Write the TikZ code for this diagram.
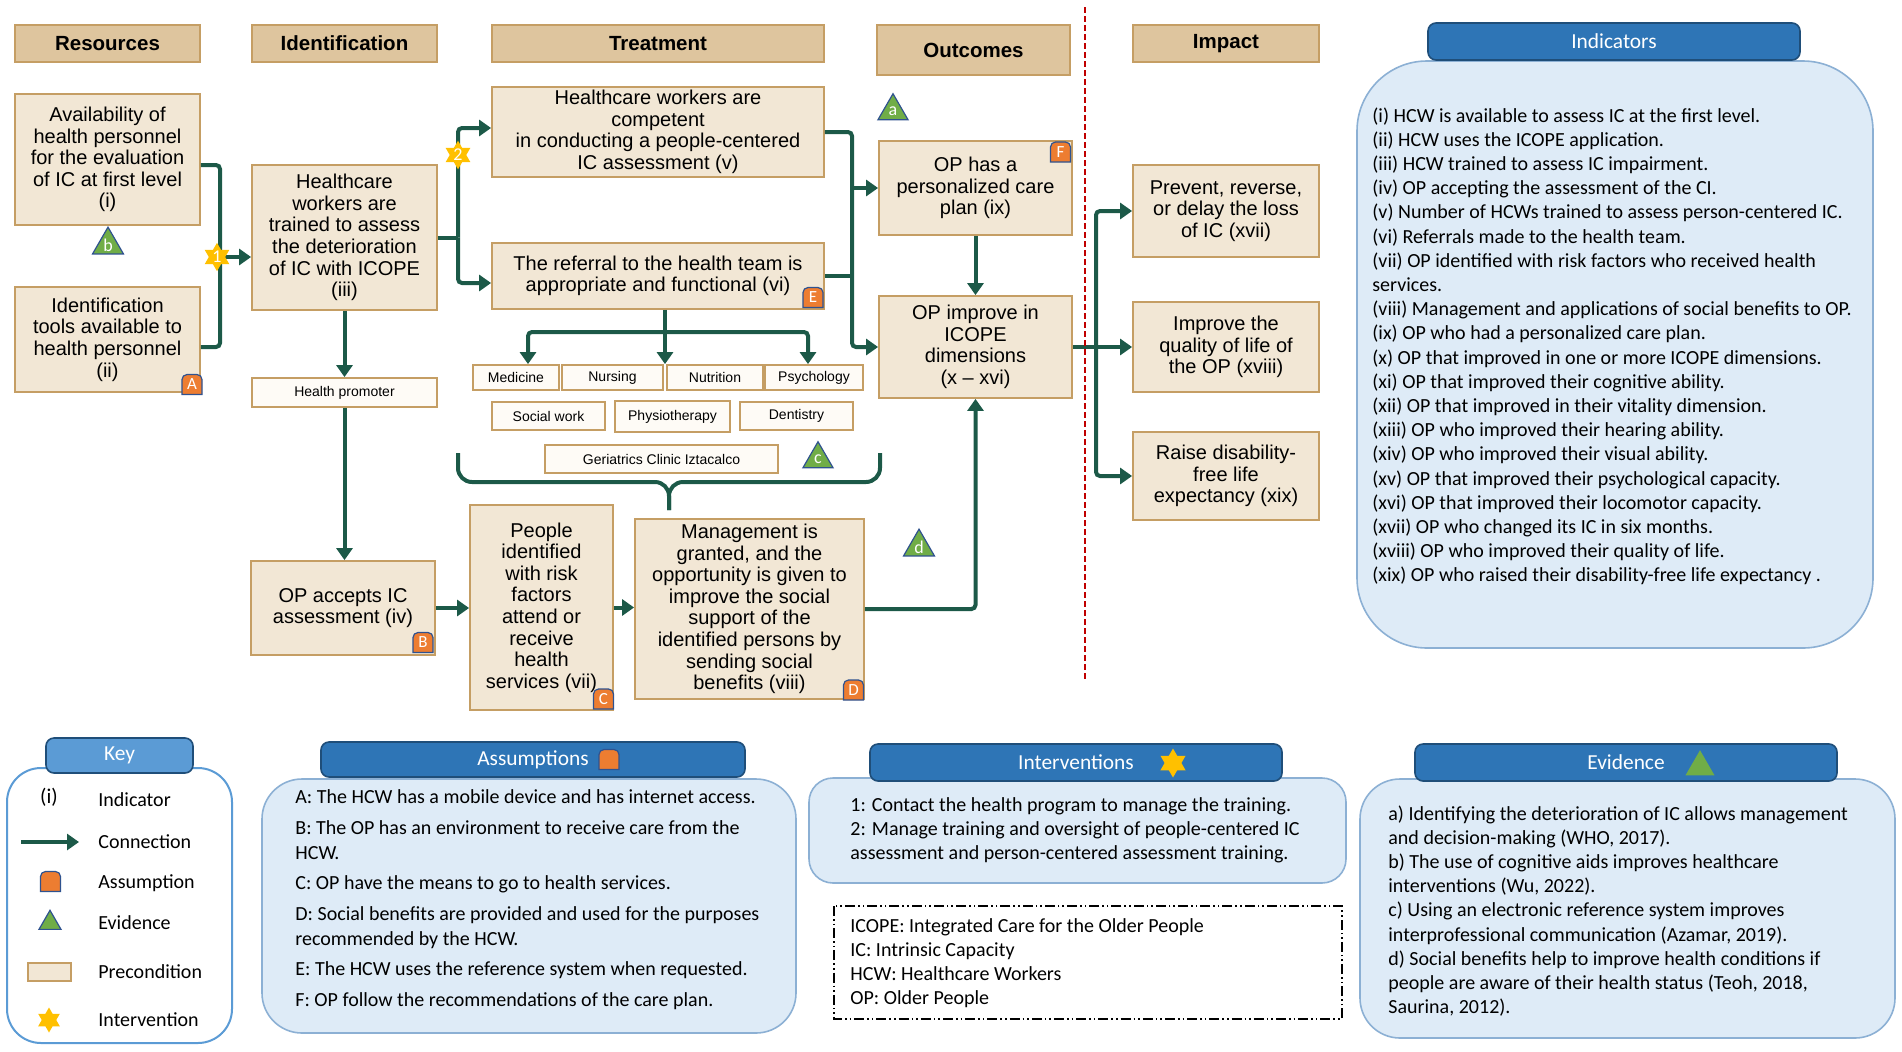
\documentclass[tikz,border=0pt]{standalone}
\usepackage{fontspec}
\setmainfont{Liberation Sans}
\newfontfamily\calibri{Carlito}
\usepackage{tikz}
\usetikzlibrary{positioning,arrows.meta,calc,shapes.geometric}

\definecolor{headfill}{RGB}{222,197,158}
\definecolor{boxfill}{RGB}{242,231,213}
\definecolor{boxline}{RGB}{197,158,100}
\definecolor{teamfill}{RGB}{254,251,246}
\definecolor{linkgreen}{RGB}{28,89,72}
\definecolor{evgreen}{RGB}{112,173,71}
\definecolor{evline}{RGB}{47,82,143}
\definecolor{asorange}{RGB}{237,125,49}
\definecolor{stargold}{RGB}{255,192,0}
\definecolor{panelblue}{RGB}{46,117,182}
\definecolor{panelline}{RGB}{31,78,121}
\definecolor{keyblue}{RGB}{91,155,213}
\definecolor{bodyfill}{RGB}{222,235,247}
\definecolor{bodyline}{RGB}{140,176,212}
\definecolor{cutred}{RGB}{192,0,0}

% assumption badge: name, position, letter
\newcommand{\asmbadge}[3]{%
  \filldraw[asmshape] ($(#2)+(-10,10)$) -- ($(#2)+(10,10)$) [rounded corners=2.5pt] -- ($(#2)+(10,-10)$) -- ($(#2)+(-10,-10)$) [sharp corners] -- cycle;
  \node[asmtext] (#1) at (#2) {#3};}

\begin{document}
\begin{tikzpicture}[x=0.5pt,y=-0.5pt,
  head/.style={draw=boxline, fill=headfill, line width=0.9pt, font=\fontsize{10.25}{12}\selectfont\bfseries, minimum width=92.5pt, minimum height=18.5pt, inner sep=0pt},
  cond/.style={draw=boxline, fill=boxfill, line width=0.9pt, align=center, font=\fontsize{10}{10.8}\selectfont, inner sep=0pt},
  team/.style={draw=boxline, fill=teamfill, line width=0.9pt, font=\fontsize{7}{8}\selectfont, minimum height=12.5pt, inner sep=0pt},
  link/.style={draw=linkgreen, line width=2pt, rounded corners=2pt},
  arr/.style={link, -{Triangle[length=6pt,width=8pt]}},
  evid/.style={regular polygon, regular polygon sides=3, fill=evgreen, draw=evline, line width=0.6pt, inner sep=0pt, text=white, font=\calibri\fontsize{9}{9}\selectfont, minimum size=17.3pt},
  interv/.style={star, star points=6, star point ratio=1.73, fill=stargold, inner sep=0pt, minimum size=14pt, text=white, font=\calibri\fontsize{9}{9}\selectfont},
  asmshape/.style={fill=asorange, draw=evline, line width=0.6pt},
  asmtext/.style={inner sep=0pt, minimum size=10pt, text=white, font=\calibri\fontsize{8.5}{9}\selectfont},
  cut/.style={draw=cutred, line width=1.1pt, dash pattern=on 3pt off 1.5pt},
  body/.style={draw=bodyline, fill=bodyfill, line width=0.8pt},
  panelhead/.style={draw=panelline, fill=panelblue, rounded corners=4pt, line width=0.8pt, text=white, font=\calibri\fontsize{10.7}{12}\selectfont, inner sep=0pt, minimum height=18.5pt},
  paneltext/.style={align=left, inner sep=0pt, font=\calibri\fontsize{10}{12.1}\selectfont},
  keylabel/.style={anchor=west, inner sep=0pt, font=\calibri\fontsize{10}{12}\selectfont},
  gloss/.style={draw=black, line width=0.7pt, dash pattern=on 5pt off 1.5pt on 0.8pt off 1.5pt on 0.8pt off 1.5pt}]
\useasboundingbox (0,0) rectangle (1902,1051);

% Column headers
\node[head] (hres) at (107.5,43.5) {Resources};
\node[head] (hide) at (344.5,43.5) {Identification};
\node[head, minimum width=166pt] (htre) at (658,43.5) {Treatment};
\node[head, minimum width=96.5pt, minimum height=25pt] (hout) at (973.5,50) {Outcomes};
\node[head, minimum width=93pt] (himp) at (1226,43.5) {Impact};

% Preconditions
\node[cond, minimum width=92.5pt, minimum height=65.5pt] (avail) at (107.5,159.5) {Availability of\\health personnel\\for the evaluation\\of IC at first level\\(i)};
\node[cond, minimum width=92.5pt, minimum height=52.5pt] (tools) at (107.5,339.5) {Identification\\tools available to\\health personnel\\(ii)};
\node[cond, minimum width=92.5pt, minimum height=72.5pt] (trained) at (344.5,237.5) {Healthcare\\workers are\\trained to assess\\the deterioration\\of IC with ICOPE\\(iii)};
\node[cond, minimum width=92pt, minimum height=47pt] (accepts) at (343,608) {OP accepts IC\\assessment (iv)};
\node[cond, minimum width=166pt, minimum height=45pt] (competent) at (658,132) {Healthcare workers are\\competent\\in conducting a people-centered\\IC assessment (v)};
\node[cond, minimum width=166pt, minimum height=33pt] (referral) at (658,276) {The referral to the health team is\\appropriate and functional (vi)};
\node[cond, minimum width=71.5pt, minimum height=102.5pt] (people) at (541.5,607.5) {People\\identified\\with risk\\factors\\attend or\\receive\\health\\services (vii)};
\node[cond, minimum width=114.5pt, minimum height=90pt] (management) at (749.5,609) {Management is\\granted, and the\\opportunity is given to\\improve the social\\support of the\\identified persons by\\sending social\\benefits (viii)};
\node[cond, minimum width=96.5pt, minimum height=47pt] (careplan) at (975.5,188) {OP has a\\personalized care\\plan (ix)};
\node[cond, minimum width=96.5pt, minimum height=51pt] (improve) at (975.5,347) {OP improve in\\ICOPE\\dimensions\\(x -- xvi)};
\node[cond, minimum width=93pt, minimum height=46pt] (prevent) at (1226,211) {Prevent, reverse,\\or delay the loss\\of IC (xvii)};
\node[cond, minimum width=93pt, minimum height=45pt] (quality) at (1226,347) {Improve the\\quality of life of\\the OP (xviii)};
\node[cond, minimum width=93pt, minimum height=44pt] (raise) at (1226,476) {Raise disability-\\free life\\expectancy (xix)};

% Health team
\node[team, minimum width=92.5pt, minimum height=14.5pt] (promoter) at (344.5,392.5) {Health promoter};
\node[team, minimum width=43pt] (medicine) at (516,377.5) {Medicine};
\node[team, minimum width=50.5pt] (nursing) at (612.5,377.5) {Nursing};
\node[team, minimum width=48pt] (nutrition) at (715,377.5) {Nutrition};
\node[team, minimum width=49pt] (psychology) at (814,377.5) {Psychology};
\node[team, minimum width=56.5pt, minimum height=14pt] (socialwork) at (548.5,416) {Social work};
\node[team, minimum width=57.5pt, minimum height=15.5pt] (physio) at (672.5,416.5) {Physiotherapy};
\node[team, minimum width=56.5pt, minimum height=14pt] (dentistry) at (796.5,416) {Dentistry};
\node[team, minimum width=116.5pt, minimum height=14pt] (geriatrics) at (661.5,459) {Geriatrics Clinic Iztacalco};

% Connections
\coordinate (j1) at (220,257);
\draw[link] ([yshift=-2.75pt]avail.east) -| (j1) |- ([yshift=-3.75pt]tools.east);
\draw[arr] (j1) -- (j1 -| trained.west);
\coordinate (j2) at (458,237.5);
\draw[link] (trained.east) -- (j2);
\draw[arr] (j2) |- ([yshift=2pt]competent.west);
\draw[arr] (j2) |- ([yshift=-3.5pt]referral.west);
\draw[arr] (trained.south) -- (promoter.north);
\draw[arr] (promoter.south) -- (promoter.south |- accepts.north);
\draw[arr] (accepts.east) -- (accepts.east -| people.west);
\draw[arr] (people.east) -- (people.east -| management.west);
\draw[arr] (management.east) -| (improve.south);
\draw[arr] (careplan.south) -- (improve.north);
\coordinate (bus) at (852,347);
\draw[arr] (competent.east) -| (bus) -- (improve.west);
\draw[arr] (bus |- careplan.west) -- (careplan.west);
\draw[link] (referral.east) -- (referral.east -| bus);
\coordinate (tb) at (665,332);
\draw[link] (tb |- referral.south) -- (tb);
\draw[arr] (tb) -| ([xshift=6pt]medicine.north);
\draw[arr] (tb) -- (tb |- nursing.north);
\draw[arr] (tb) -| ([xshift=-3pt]psychology.north);
\coordinate (bl) at (458,453);
\coordinate (br) at (880,453);
\coordinate (bm) at (669,510);
\draw[link, rounded corners=7pt] (bl) |- ($(bm)+(0,-28)$) -- (bm);
\draw[link, rounded corners=7pt] (br) |- ($(bm)+(0,-28)$) -- (bm);
\draw[arr] (improve.east) -- (quality.west);
\coordinate (ib) at (1096,347);
\draw[arr] (ib) |- (prevent.west);
\draw[arr] (ib) |- (raise.west);

% Cut line
\coordinate (cut1) at (1085,7);
\coordinate (cut2) at (1085,680);
\draw[cut] (cut1) -- (cut2);

% Interventions, evidence, assumptions
\node[interv] (s1) at (217,257) {1};
\node[interv] (s2) at (458,155) {2};
\node[evid] (eva) at (893,111) {a};
\node[evid] (evb) at (108,245) {b};
\node[evid] (evc) at (818,459) {c};
\node[evid] (evd) at (919,547) {d};
\asmbadge{asA}{192,384.5}{A}
\asmbadge{asB}{423,642.5}{B}
\asmbadge{asC}{603.5,699}{C}
\asmbadge{asD}{853.5,690}{D}
\asmbadge{asE}{813,297.5}{E}
\asmbadge{asF}{1060.5,152}{F}

% Indicators
\draw[body, rounded corners=35pt] (1357,61) rectangle (1873,648);
\node[panelhead, minimum width=186pt] (hind) at (1614,41.5) {Indicators};
\node[paneltext, anchor=north west] (indtext) at (1372,107) {(i) HCW is available to assess IC at the first level.\\
(ii) HCW uses the ICOPE application.\\
(iii) HCW trained to assess IC impairment.\\
(iv) OP accepting the assessment of the CI.\\
(v) Number of HCWs trained to assess person-centered IC.\\
(vi) Referrals made to the health team.\\
(vii) OP identified with risk factors who received health\\
services.\\
(viii) Management and applications of social benefits to OP.\\
(ix) OP who had a personalized care plan.\\
(x) OP that improved in one or more ICOPE dimensions.\\
(xi) OP that improved their cognitive ability.\\
(xii) OP that improved in their vitality dimension.\\
(xiii) OP who improved their hearing ability.\\
(xiv) OP who improved their visual ability.\\
(xv) OP that improved their psychological capacity.\\
(xvi) OP that improved their locomotor capacity.\\
(xvii) OP who changed its IC in six months.\\
(xviii) OP who improved their quality of life.\\
(xix) OP who raised their disability-free life expectancy .};

% Key
\draw[draw=keyblue, fill=white, line width=1pt, rounded corners=17pt] (7,768) rectangle (232,1043);
\node[panelhead, fill=keyblue, minimum width=73.5pt, minimum height=17.5pt] (hkey) at (119.5,755.5) {Key};
\node[inner sep=0pt, font=\calibri\fontsize{10.5}{12}\selectfont] (ki) at (49,797) {(i)};
\node[keylabel] (kind) at (98,800) {Indicator};
\coordinate (ka1) at (21,842);
\coordinate (ka2) at (79,842);
\draw[arr] (ka1) -- (ka2);
\node[keylabel] (kcon) at (98,842) {Connection};
\asmbadge{kasm}{50.5,881.5}{}
\node[keylabel] (kass) at (98,883) {Assumption};
\node[evid, minimum size=12.7pt] (kev) at (50,923) {};
\node[keylabel] (kevi) at (98,923) {Evidence};
\node[cond, minimum width=21.5pt, minimum height=9pt] (kpre) at (49.5,972) {};
\node[keylabel] (kprec) at (98,972) {Precondition};
\node[interv, minimum size=12.5pt] (kint) at (49,1020) {};
\node[keylabel] (kinte) at (98,1020) {Intervention};

% Assumptions
\draw[body, rounded corners=20pt] (262,779) rectangle (796,1033);
\node[panelhead, minimum width=212pt, minimum height=17.5pt] (hasm) at (533,759.5) {Assumptions};
\asmbadge{hasmb}{609,759.5}{}
\node[paneltext, font=\calibri\fontsize{10}{12.4}\selectfont, anchor=north west] (asmtext) at (295,789.5) {A: The HCW has a mobile device and has internet access.\\[2.9pt]
B: The OP has an environment to receive care from the\\
HCW.\\[2.9pt]
C: OP have the means to go to health services.\\[2.9pt]
D: Social benefits are provided and used for the purposes\\
recommended by the HCW.\\[2.9pt]
E: The HCW uses the reference system when requested.\\[2.9pt]
F: OP follow the recommendations of the care plan.};

% Interventions
\draw[body, rounded corners=12pt] (809,778) rectangle (1346,883);
\node[panelhead, minimum width=206pt] (hint) at (1076,762.5) {Interventions};
\node[interv, minimum size=14.5pt] (hstar) at (1173,763) {};
\node[paneltext, font=\calibri\fontsize{10}{12}\selectfont, anchor=north west] (inttext) at (850,797.5) {1: Contact the health program to manage the training.\\
2: Manage training and oversight of people-centered IC\\
assessment and person-centered assessment training.};
\draw[gloss] (834,906) rectangle (1342,1019);
\node[paneltext, font=\calibri\fontsize{10}{12}\selectfont, anchor=north west] (glosstext) at (850,918.5) {ICOPE: Integrated Care for the Older People\\
IC: Intrinsic Capacity\\
HCW: Healthcare Workers\\
OP: Older People};

% Evidence
\draw[body, rounded corners=20pt] (1360,779) rectangle (1895,1038);
\node[panelhead, minimum width=211pt] (hev) at (1626,762.5) {Evidence};
\node[evid, draw=evgreen, minimum size=15.6pt] (hevtri) at (1700,767) {};
\node[paneltext, font=\calibri\fontsize{10}{12.05}\selectfont, anchor=north west] (evtext) at (1388,805.5) {a) Identifying the deterioration of IC allows management\\
and decision-making (WHO, 2017).\\
b) The use of cognitive aids improves healthcare\\
interventions (Wu, 2022).\\
c) Using an electronic reference system improves\\
interprofessional communication (Azamar, 2019).\\
d) Social benefits help to improve health conditions if\\
people are aware of their health status (Teoh, 2018,\\
Saurina, 2012).};
\end{tikzpicture}
\end{document}
